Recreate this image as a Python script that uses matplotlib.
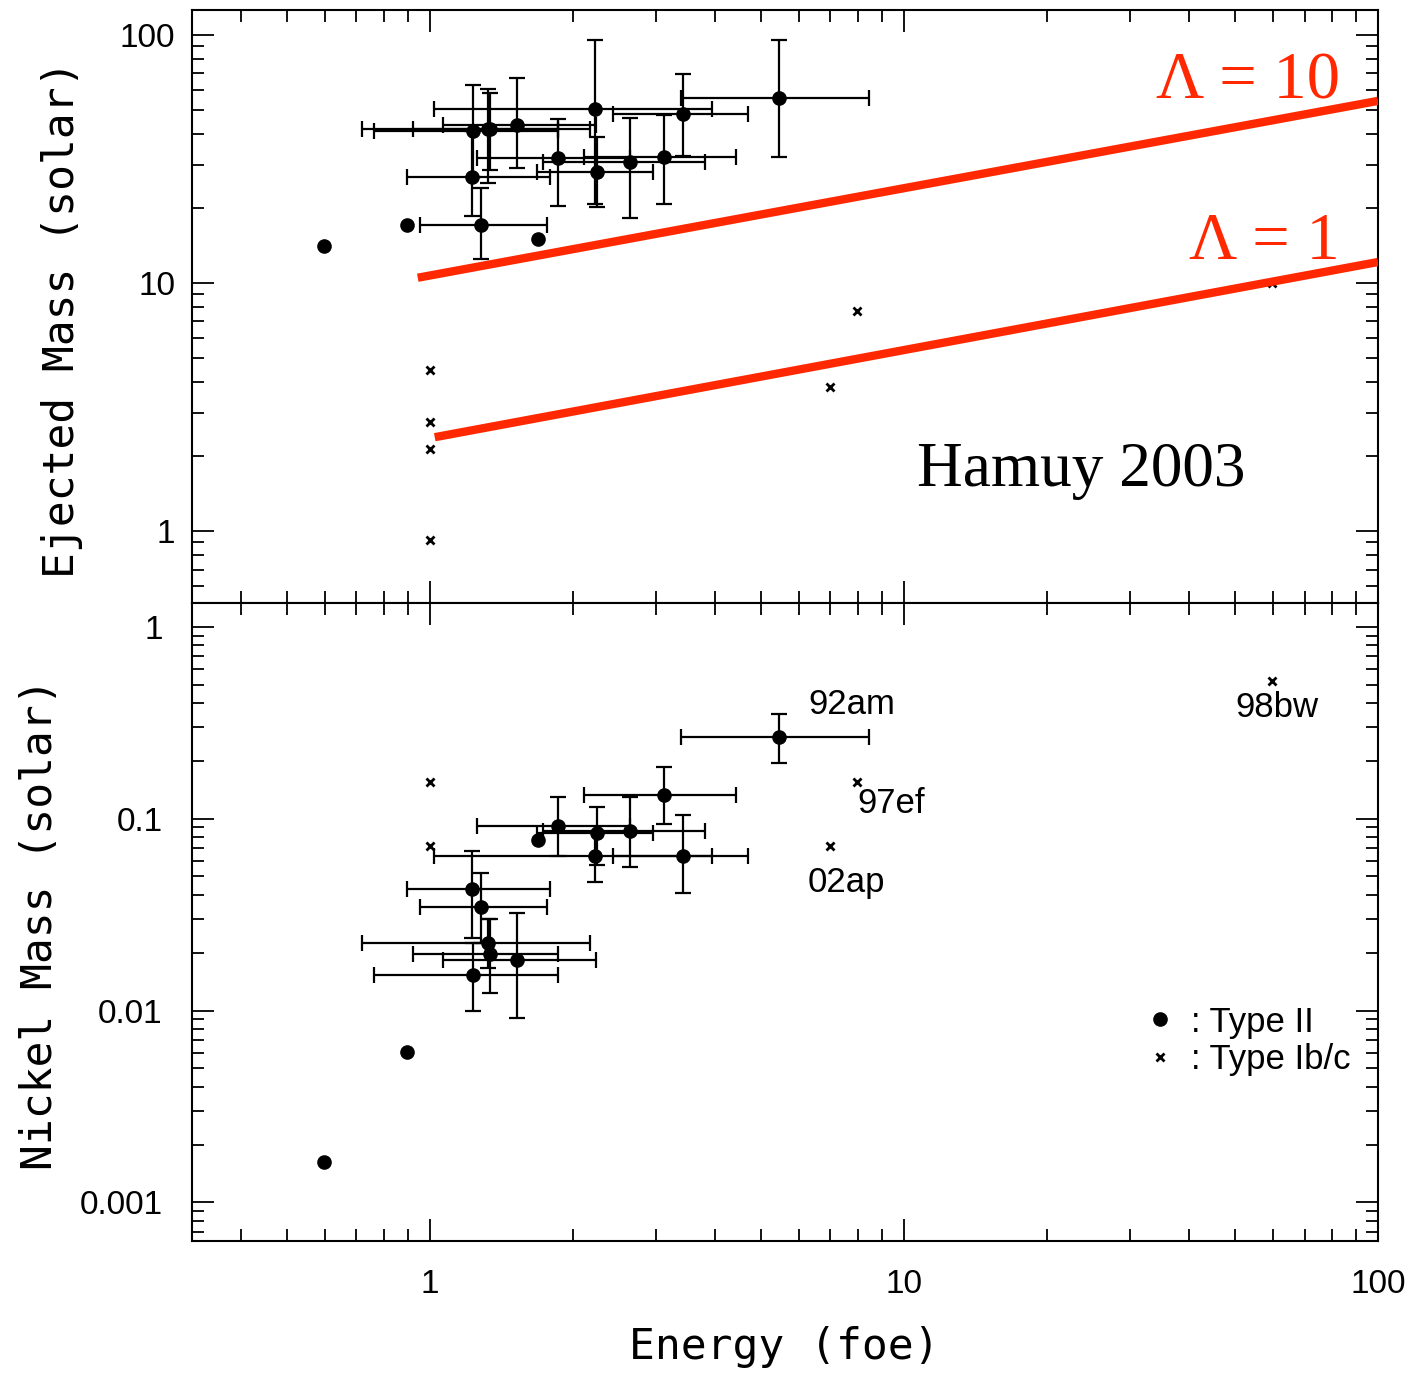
import numpy as np
import matplotlib
matplotlib.use("Agg")
import matplotlib.pyplot as plt
from matplotlib.ticker import LogLocator, FixedLocator, FixedFormatter, NullFormatter

# Type II with error bars (energy in foe)
E_II = np.array([1.226, 1.28, 1.325, 1.34, 1.526, 1.232, 1.862, 2.25, 2.64, 2.23, 3.12, 3.42, 5.45])
E_lo = np.array([0.894, 0.952, 0.719, 0.92, 1.065, 0.762, 1.256, 1.68, 1.73, 1.02, 2.11, 2.44, 3.38])
E_hi = np.array([1.79, 1.765, 2.18, 1.86, 2.24, 1.86, 2.64, 2.95, 3.8, 3.94, 4.42, 4.69, 8.44])
M_II = np.array([26.8, 17.1, 41.8, 41.6, 43.4, 41.0, 31.9, 28.0, 30.7, 50.3, 32.2, 48.0, 55.7])
M_lo = np.array([18.6, 12.5, 25.3, 28.6, 29.1, 26.8, 20.4, 20.3, 18.3, 20.9, 20.8, 32.5, 32.2])
M_hi = np.array([41.0, 24.2, 60.6, 58.4, 67.1, 62.9, 45.8, 38.8, 46.3, 95.5, 47.6, 69.6, 95.5])
Ni_II = np.array([0.0432, 0.0348, 0.0226, 0.0196, 0.0184, 0.0154, 0.092, 0.0845, 0.0866, 0.064, 0.133, 0.064, 0.267])
Ni_lo = np.array([0.024, 0.0225, 0.0166, 0.0124, 0.0092, 0.010, 0.064, 0.0576, 0.056, 0.047, 0.094, 0.041, 0.196])
Ni_hi = np.array([0.068, 0.0523, 0.030, 0.030, 0.0324, 0.0225, 0.130, 0.115, 0.13, 0.085, 0.187, 0.104, 0.352])

# Type II without error bars
E_ne = [0.597, 0.894, 1.69]
M_ne = [14.1, 17.1, 15.0]
Ni_ne = [0.00162, 0.0061, 0.0778]

# Type Ib/c
E_Ibc_top = [1.0, 1.0, 1.0, 1.0, 6.98, 7.96, 59.7]
M_Ibc = [4.46, 2.75, 2.14, 0.92, 3.81, 7.7, 10.0]
E_Ibc_bot = [1.0, 1.0, 6.98, 7.96, 59.7]
Ni_Ibc = [0.156, 0.072, 0.072, 0.156, 0.523]

# labelled supernovae (bottom panel)
sn_names = ["92am", "97ef", "02ap", "98bw"]
sn_E = [5.45, 7.96, 6.98, 59.7]
sn_Ni = [0.267, 0.156, 0.072, 0.523]
sn_offset = [(21, 23), (0, -16), (-16, -26), (4, -19)]
sn_ha = ["left", "left", "left", "center"]

# Lambda lines
lam10_E = [0.943, 100]
lam10_M = [10.5, 54.2]
lam1_E = [1.024, 100]
lam1_M = [2.39, 12.15]

RED = "#ff2800"
SANS = "Liberation Sans"
MONO = "DejaVu Sans Mono"

fig = plt.figure(figsize=(14.14, 13.77), dpi=100)
L, R = 192 / 1414, 1378 / 1414
ax1 = fig.add_axes([L, 1 - 603 / 1377, R - L, (603 - 10) / 1377])
ax2 = fig.add_axes([L, 1 - 1241 / 1377, R - L, (1241 - 603) / 1377], sharex=ax1)

eb = dict(fmt="o", color="black", ms=9.5, elinewidth=1.6, capsize=6,
          capthick=1.6, zorder=3)

# top panel
ax1.errorbar(E_II, M_II, xerr=[E_II - E_lo, E_hi - E_II],
             yerr=[M_II - M_lo, M_hi - M_II], **eb)
ax1.plot(E_ne, M_ne, "o", color="black", ms=9.5, zorder=3)
ax1.plot(E_Ibc_top, M_Ibc, "x", color="black", ms=6, mew=2, zorder=2)
ax1.plot(lam10_E, lam10_M, color=RED, lw=6, solid_capstyle="butt", zorder=4)
ax1.plot(lam1_E, lam1_M, color=RED, lw=6, solid_capstyle="butt", zorder=4)
ax1.text(0.968, 0.878, "Λ = 10", transform=ax1.transAxes, color=RED,
         fontsize=48, family="Liberation Serif", ha="right", va="center")
ax1.text(0.968, 0.608, "Λ = 1", transform=ax1.transAxes, color=RED,
         fontsize=48, family="Liberation Serif", ha="right", va="center")
ax1.text(0.611, 0.222, "Hamuy 2003", transform=ax1.transAxes,
         fontsize=45.5, family="Liberation Serif", ha="left", va="center")

# bottom panel
ax2.errorbar(E_II, Ni_II, xerr=[E_II - E_lo, E_hi - E_II],
             yerr=[Ni_II - Ni_lo, Ni_hi - Ni_II], **eb)
ax2.plot(E_ne, Ni_ne, "o", color="black", ms=9.5, zorder=3, label=": Type II")
ax2.plot(E_Ibc_bot, Ni_Ibc, "x", color="black", ms=6, mew=2, zorder=2,
         label=": Type Ib/c")
for name, e, n, off, ha in zip(sn_names, sn_E, sn_Ni, sn_offset, sn_ha):
    ax2.annotate(name, (e, n), xytext=off, textcoords="offset points",
                 ha=ha, va="center", fontsize=25, family=SANS)
leg = ax2.legend(loc="lower right", bbox_to_anchor=(1.003, 0.21), frameon=False,
                 handlelength=0.6, handletextpad=0.6, labelspacing=0.12,
                 prop={"family": SANS, "size": 25})

for ax in (ax1, ax2):
    ax.set_xscale("log")
    ax.set_yscale("log")
    ax.tick_params(which="both", direction="in", top=True, right=True, width=1.3)
    ax.tick_params(which="major", length=16, labelsize=24, pad=12)
    ax.tick_params(which="minor", length=8.5)
    for s in ax.spines.values():
        s.set_linewidth(1.5)

ax1.set_xlim(0.315, 100)
ax1.set_ylim(0.513, 126)
ax2.set_ylim(0.00063, 1.33)
ax2.tick_params(axis="x", which="major", pad=20)
ax2.tick_params(axis="y", which="major", pad=21)

ax1.xaxis.set_major_locator(FixedLocator([1, 10, 100]))
ax1.xaxis.set_minor_locator(LogLocator(base=10, subs=np.arange(2, 10)))
ax2.xaxis.set_major_formatter(FixedFormatter(["1", "10", "100"]))
ax2.xaxis.set_minor_formatter(NullFormatter())
plt.setp(ax1.get_xticklabels(), visible=False)

ax1.yaxis.set_major_locator(FixedLocator([1, 10, 100]))
ax1.yaxis.set_major_formatter(FixedFormatter(["1", "10", "100"]))
ax1.yaxis.set_minor_locator(LogLocator(base=10, subs=np.arange(2, 10)))
ax1.yaxis.set_minor_formatter(NullFormatter())
ax2.yaxis.set_major_locator(FixedLocator([0.001, 0.01, 0.1, 1]))
ax2.yaxis.set_major_formatter(FixedFormatter(["0.001", "0.01", "0.1", "1"]))
ax2.yaxis.set_minor_locator(LogLocator(base=10, subs=np.arange(2, 10)))
ax2.yaxis.set_minor_formatter(NullFormatter())
for ax in (ax1, ax2):
    for lab in ax.get_xticklabels() + ax.get_yticklabels():
        lab.set_family(SANS)

ax1.set_ylabel("Ejected Mass (solar)", family=MONO, fontsize=31, va="center")
ax1.yaxis.set_label_coords(-0.110, 0.479)
ax2.set_ylabel("Nickel Mass (solar)", family=MONO, fontsize=31, va="center")
ax2.yaxis.set_label_coords(-0.128, 0.497)
ax2.set_xlabel("Energy (foe)", family=MONO, fontsize=31, va="center")
ax2.xaxis.set_label_coords(0.499, -0.166)

fig.savefig("out.png", dpi=100)
